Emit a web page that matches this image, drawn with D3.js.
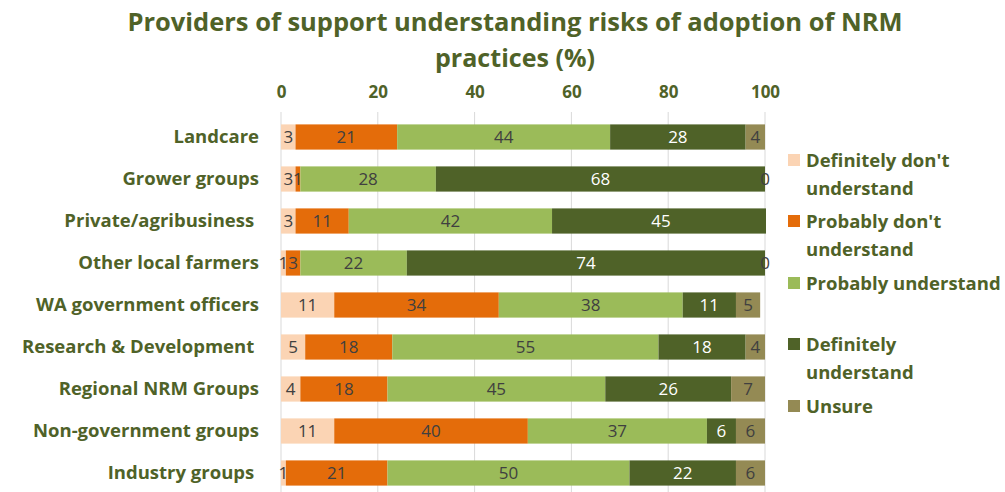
<!DOCTYPE html>
<html>
<head>
<meta charset="utf-8">
<script src="https://cdn.jsdelivr.net/npm/d3@7"></script>
<style>
  body { margin: 0; background: #fff; }
  svg { font-family: "Open Sans", sans-serif; }
  text { white-space: pre; }
</style>
</head>
<body>
<svg id="chart" width="1005" height="492"></svg>
<script>
var svg = d3.select("#chart");

// data
var categories = ["Landcare", "Grower groups", "Private/agribusiness ", "Other local farmers",
    "WA government officers", "Research & Development ", "Regional NRM Groups",
    "Non-government groups", "Industry groups "];
var seriesNames = ["Definitely don't understand", "Probably don't understand",
    "Probably understand", "Definitely understand", "Unsure"];
var defDont   = [3, 3, 3, 1, 11, 5, 4, 11, 1];
var probDont  = [21, 1, 11, 3, 34, 18, 18, 40, 21];
var probUnd   = [44, 28, 42, 22, 38, 55, 45, 37, 50];
var defUnd    = [28, 68, 45, 74, 11, 18, 26, 6, 22];
var unsure    = [4, 0, null, 0, 5, 4, 7, 6, 6];
var xTicks = [0, 20, 40, 60, 80, 100];

var seriesValues = [defDont, probDont, probUnd, defUnd, unsure];
var colors = ["#FBD4B4", "#E46C0A", "#9BBB59", "#4F6228", "#948A54"];
var labelColors = ["#404040", "#404040", "#404040", "#ffffff", "#404040"];
var textGreen = "#4F6228";

var plot = {left: 281, right: 765, top: 116, bottom: 494};

var xScale = d3.scaleLinear().domain([0, 100]).range([plot.left, plot.right]);
var yScale = d3.scaleBand().domain(categories).range([plot.top, plot.bottom])
    .paddingInner(0.4).paddingOuter(0.2);

// title
var title = svg.append("text")
    .attr("x", 515)
    .attr("text-anchor", "middle")
    .style("font-weight", "bold")
    .style("font-size", "25px")
    .attr("fill", textGreen);
title.append("tspan").attr("x", 515).attr("y", 31)
    .attr("textLength", 775).attr("lengthAdjust", "spacingAndGlyphs")
    .text("Providers of support understanding risks of adoption of NRM");
title.append("tspan").attr("x", 515).attr("y", 67)
    .attr("textLength", 160).attr("lengthAdjust", "spacingAndGlyphs")
    .text("practices (%)");

// gridlines
svg.append("g").selectAll("line").data(xTicks).enter()
    .append("line")
    .attr("x1", function(d) { return xScale(d); })
    .attr("x2", function(d) { return xScale(d); })
    .attr("y1", 112)
    .attr("y2", 492)
    .attr("stroke", "#D9D9D9")
    .attr("stroke-width", 1);

// top axis
var xAxis = svg.append("g")
    .attr("transform", "translate(0,100)")
    .call(d3.axisTop(xScale).tickValues(xTicks).tickSize(0).tickPadding(0));
xAxis.select(".domain").remove();
xAxis.selectAll("text")
    .attr("fill", textGreen)
    .style("font-size", "17px")
    .style("font-weight", "bold")
    .style("font-family", "'Open Sans', sans-serif")
    .attr("dy", "-0.1em");

// y axis labels
var yAxis = svg.append("g")
    .attr("transform", "translate(259,0)")
    .call(d3.axisLeft(yScale).tickSize(0).tickPadding(0));
yAxis.select(".domain").remove();
yAxis.selectAll("text")
    .attr("fill", textGreen)
    .style("font-size", "18.5px")
    .style("font-weight", "bold")
    .style("font-family", "'Open Sans', sans-serif");

// stacked segments
var segments = [];
categories.forEach(function(c, i) {
    var start = 0;
    seriesValues.forEach(function(vals, s) {
        var v = vals[i];
        if (v === null) return;
        segments.push({cat: c, s: s, x0: start, x1: start + v, v: v});
        start += v;
    });
});

svg.append("clipPath").attr("id", "plotClip")
    .append("rect")
    .attr("x", plot.left).attr("y", plot.top)
    .attr("width", plot.right - plot.left + 1)
    .attr("height", plot.bottom - plot.top);

var barGrp = svg.append("g").attr("clip-path", "url(#plotClip)");
barGrp.selectAll("rect").data(segments).enter()
    .append("rect")
    .attr("x", function(d) { return xScale(d.x0); })
    .attr("width", function(d) { return Math.max(0, xScale(d.x1) - xScale(d.x0)); })
    .attr("y", function(d) { return yScale(d.cat); })
    .attr("height", yScale.bandwidth())
    .attr("fill", function(d) { return colors[d.s]; });

// data labels
svg.append("g").selectAll("text").data(segments).enter()
    .append("text")
    .attr("x", function(d) { return xScale((d.x0 + d.x1) / 2); })
    .attr("y", function(d) { return yScale(d.cat) + yScale.bandwidth() / 2; })
    .attr("dy", "0.36em")
    .attr("text-anchor", "middle")
    .attr("fill", function(d) { return labelColors[d.s]; })
    .style("font-size", "17px")
    .text(function(d) { return d.v; });

// legend
var legendLines = [["Definitely don't", "understand"], ["Probably don't", "understand"],
    ["Probably understand"], ["Definitely", "understand"], ["Unsure"]];
var legendY = [160, 221, 283, 344, 406];
var legend = svg.append("g");
legendLines.forEach(function(lines, i) {
    legend.append("rect")
        .attr("x", 788).attr("y", legendY[i] - 6)
        .attr("width", 12).attr("height", 12)
        .attr("fill", colors[i]);
    var t = legend.append("text")
        .attr("fill", textGreen)
        .style("font-size", "18.5px")
        .style("font-weight", "bold");
    lines.forEach(function(line, j) {
        t.append("tspan")
            .attr("x", 806)
            .attr("y", legendY[i] + j * 28)
            .attr("dy", "0.36em")
            .text(line);
    });
});
</script>
</body>
</html>
